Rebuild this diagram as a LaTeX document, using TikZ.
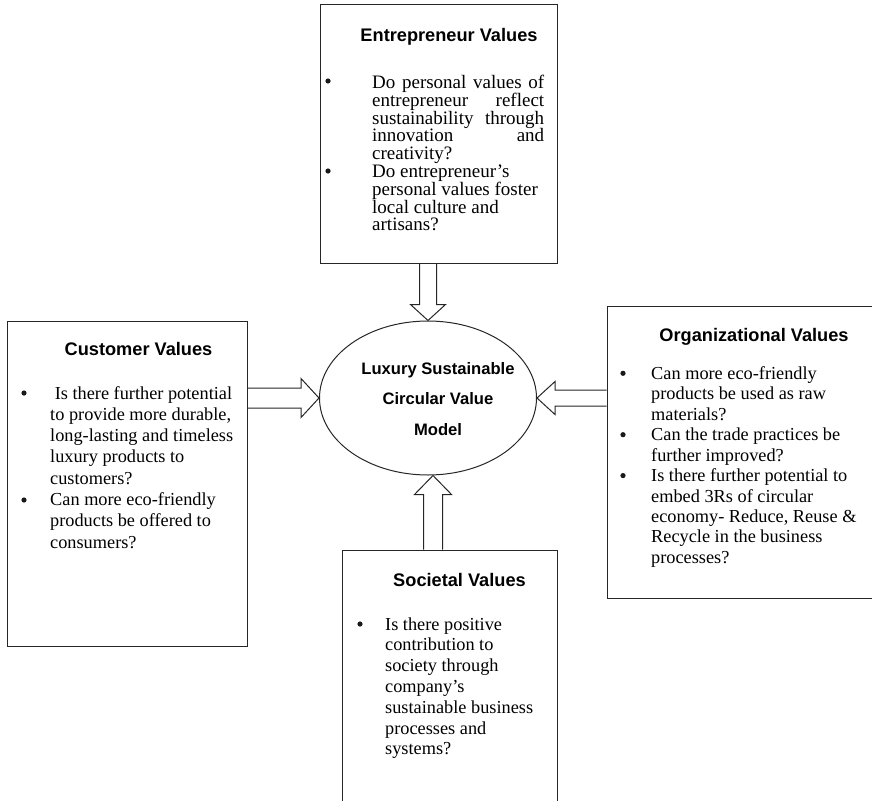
\documentclass[tikz,border=0pt]{standalone}
\usepackage{fontspec}
\setmainfont{Liberation Serif}
\newfontfamily\headfont{Liberation Sans}
\usetikzlibrary{calc,shapes.geometric}

% indentation helpers for the question lists
\newcommand\ind[1]{\hspace*{#1}}
\newcommand\jl[1]{\makebox[172pt][s]{#1}}

% hollow block arrow from #1 to #2: shaft half-width #3, head half-width #4, head length #5
\newcommand\blockarrow[5]{%
  \path (#1) coordinate (ba-s) (#2) coordinate (ba-t);
  \coordinate (ba-h) at ($(ba-t)!#5pt!(ba-s)$);
  \draw[hollowarrow]
    ($(ba-s)!#3pt!90:(ba-t)$) -- ($(ba-h)!#3pt!90:(ba-t)$) -- ($(ba-h)!#4pt!90:(ba-t)$)
    -- (ba-t)
    -- ($(ba-h)!#4pt!-90:(ba-t)$) -- ($(ba-h)!#3pt!-90:(ba-t)$) -- ($(ba-s)!#3pt!-90:(ba-t)$);
}

\tikzset{
  x=1pt, y=-1pt,
  frame/.style={draw=black!85, line width=1pt, fill=white, rectangle, inner sep=0pt},
  heading/.style={font=\headfont\bfseries\fontsize{18.2}{22}\selectfont, anchor=base, inner sep=0pt},
  body/.style={anchor=base west, inner sep=0pt},
  dot/.style={circle, fill=black!90, inner sep=0pt, minimum size=5.2pt},
  core/.style={draw=black!85, line width=1pt, ellipse, inner sep=0pt,
    minimum width=217pt, minimum height=154pt},
  hollowarrow/.style={draw=black!85, line width=1pt, line join=miter},
}

\begin{document}
\begin{tikzpicture}
\useasboundingbox (0,0) rectangle (872,800);
\clip (0,0) rectangle (872,800);

% value boxes
\node[frame, minimum width=237pt, minimum height=258pt] (ent) at (438.5,134) {};
\node[frame, minimum width=240pt, minimum height=325pt] (cust) at (127,483.5) {};
\node[frame, minimum width=280pt, minimum height=292pt] (org) at (747,452) {};
\node[frame, minimum width=215pt, minimum height=262pt] (soc) at (449.5,681) {};

% central model
\node[core] (core) at (428,398) {};
\node[anchor=base, inner sep=0pt] (coreT) at (438,374)
  {\parbox[t]{200pt}{\centering\headfont\bfseries\fontsize{16.6}{30.5}\selectfont
   Luxury Sustainable\\ Circular Value\\ Model}};

% headings
\node[heading] (entT) at (449,41.5) {Entrepreneur Values};
\node[heading] (custT) at (138.5,355) {Customer Values};
\node[heading] (orgT) at (754,341.7) {Organizational Values};
\node[heading] (socT) at (459.5,586) {Societal Values};

% entrepreneur questions
\node[body] (entB) at (372,88.5) {\parbox[t]{220pt}{\raggedright
  \fontsize{19}{17.8}\selectfont\lineskiplimit=-100pt
  \jl{Do personal values of}\\
  \jl{entrepreneur reflect}\\
  \jl{sustainability through}\\
  \jl{innovation and}\\
  creativity?\\
  Do entrepreneur’s\\
  personal values foster\\
  local culture and\\
  artisans?}};
\node[dot] (entD1) at (328,81) {};
\node[dot] (entD2) at (328,171) {};

% customer questions
\node[body] (custB) at (50,399) {\parbox[t]{240pt}{\raggedright
  \fontsize{18.3}{21.3}\selectfont\lineskiplimit=-100pt
  \ind{4.6pt}Is there further potential\\
  to provide more durable,\\
  long-lasting and timeless\\
  luxury products to\\
  customers?\\
  Can more eco-friendly\\
  products be offered to\\
  consumers?}};
\node[dot] (custD1) at (24,393) {};
\node[dot] (custD2) at (24,500) {};

% organizational questions
\node[body] (orgB) at (651,379.3) {\parbox[t]{230pt}{\raggedright
  \fontsize{18.3}{20.45}\selectfont\lineskiplimit=-100pt
  Can more eco-friendly\\
  products be used as raw\\
  materials?\\
  Can the trade practices be\\
  further improved?\\
  Is there further potential to\\
  embed 3Rs of circular\\
  economy- Reduce, Reuse \&\\
  Recycle in the business\\
  processes?}};
\node[dot] (orgD1) at (623,373.3) {};
\node[dot] (orgD2) at (623,434.7) {};
\node[dot] (orgD3) at (623,475.6) {};

% societal questions
\node[body] (socB) at (385,630) {\parbox[t]{200pt}{\raggedright
  \fontsize{18.3}{20.8}\selectfont\lineskiplimit=-100pt
  Is there positive\\
  contribution to\\
  society through\\
  company’s\\
  sustainable business\\
  processes and\\
  systems?}};
\node[dot] (socD1) at (360,624) {};

% arrows into the model
\blockarrow{core.north |- ent.south}{core.north}{8.5}{17.5}{16}
\coordinate (botTip) at ([xshift=5pt]core.south);
\blockarrow{botTip |- soc.north}{botTip}{9.5}{18.5}{19}
\blockarrow{core.west -| cust.east}{core.west}{10}{19.5}{18}
\blockarrow{core.east -| org.west}{core.east}{8}{16.5}{18}
\end{tikzpicture}
\end{document}
